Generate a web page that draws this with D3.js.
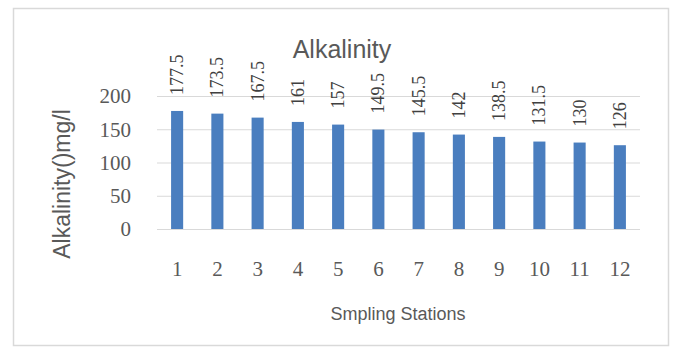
<!DOCTYPE html>
<html>
<head>
<meta charset="utf-8">
<script src="https://cdn.jsdelivr.net/npm/d3@7"></script>
<style>
  html, body { margin: 0; padding: 0; background: #fff; }
  svg { display: block; }
</style>
</head>
<body>
<svg id="chart" width="674" height="351"></svg>
<script>
// Sampling stations and measured alkalinity (mg/l)
const stations = ["1", "2", "3", "4", "5", "6", "7", "8", "9", "10", "11", "12"];
const alkalinity = [177.5, 173.5, 167.5, 161, 157, 149.5, 145.5, 142, 138.5, 131.5, 130, 126];
const yTicks = [0, 50, 100, 150, 200];

const chartTitle = "Alkalinity";
const xTitle = "Smpling Stations";
const yTitle = "Alkalinity()mg/l";

const svg = d3.select("#chart");
const W = 674, H = 351;
const plot = { left: 157, right: 640, top: 96, bottom: 229 };

const textGray = "#595959";
const labelGray = "#404040";
const gridGray = "#d9d9d9";
const barBlue = "#4a7ebf";
const serif = "'Liberation Serif', 'Times New Roman', serif";
const sans = "'Liberation Sans', Arial, sans-serif";

// chart frame
svg.append("rect")
  .attr("x", 13.5).attr("y", 8.5)
  .attr("width", 655).attr("height", 337)
  .attr("fill", "#fff")
  .attr("stroke", gridGray)
  .attr("stroke-width", 1.5);

const x = d3.scaleBand()
  .domain(stations)
  .range([plot.left, plot.right])
  .paddingInner(0.7)
  .paddingOuter(0.35);

const y = d3.scaleLinear()
  .domain([0, 200])
  .range([plot.bottom, plot.top]);

// horizontal gridlines with value labels on the left
const yAxis = d3.axisLeft(y)
  .tickValues(yTicks)
  .tickSize(-(plot.right - plot.left))
  .tickPadding(26);

const gy = svg.append("g")
  .attr("transform", `translate(${plot.left},0)`)
  .call(yAxis);
gy.select(".domain").remove();
gy.selectAll(".tick line")
  .attr("stroke", gridGray)
  .attr("stroke-width", 1);
gy.selectAll(".tick text")
  .attr("fill", textGray)
  .attr("font-family", serif)
  .attr("font-size", 21)
  .attr("dy", "0.33em");

// category labels under the baseline
const xAxis = d3.axisBottom(x).tickSize(0).tickPadding(32);
const gx = svg.append("g")
  .attr("transform", `translate(0,${plot.bottom})`)
  .call(xAxis);
gx.select(".domain").remove();
gx.selectAll(".tick text")
  .attr("fill", textGray)
  .attr("font-family", serif)
  .attr("font-size", 21);

// bars
svg.append("g")
  .selectAll("rect")
  .data(alkalinity)
  .join("rect")
  .attr("x", (d, i) => x(stations[i]))
  .attr("y", d => y(d))
  .attr("width", x.bandwidth())
  .attr("height", d => y(0) - y(d))
  .attr("fill", barBlue);

// rotated value labels above each bar
svg.append("g")
  .selectAll("text")
  .data(alkalinity)
  .join("text")
  .attr("transform", (d, i) =>
    `translate(${x(stations[i]) + x.bandwidth() / 2 + 6},${y(d) - 16}) rotate(-90)`)
  .attr("text-anchor", "start")
  .attr("fill", labelGray)
  .attr("font-family", serif)
  .attr("font-size", 18)
  .text(d => d);

// chart title
svg.append("text")
  .attr("x", 342).attr("y", 58)
  .attr("text-anchor", "middle")
  .attr("fill", textGray)
  .attr("font-family", sans)
  .attr("font-size", 25)
  .text(chartTitle);

// axis titles
svg.append("text")
  .attr("x", 398).attr("y", 320)
  .attr("text-anchor", "middle")
  .attr("fill", textGray)
  .attr("font-family", sans)
  .attr("font-size", 18)
  .text(xTitle);

svg.append("text")
  .attr("transform", `translate(70,184) rotate(-90)`)
  .attr("text-anchor", "middle")
  .attr("fill", textGray)
  .attr("font-family", sans)
  .attr("font-size", 23)
  .text(yTitle);
</script>
</body>
</html>
